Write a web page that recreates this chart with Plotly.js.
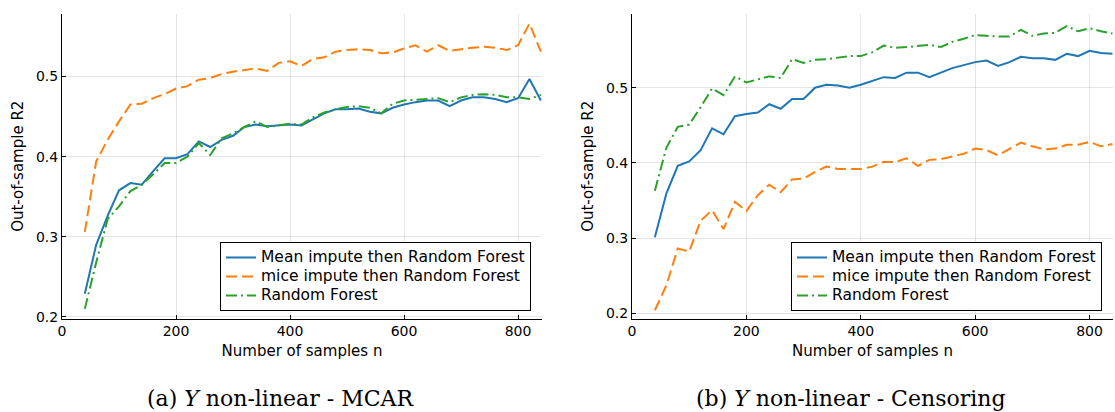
<!DOCTYPE html>
<html>
<head>
<meta charset="utf-8">
<script src="https://cdn.plot.ly/plotly-3.0.1.min.js"></script>
<style>html,body{margin:0;padding:0;background:#fff;}#chart{width:1115px;height:412px;}</style>
</head>
<body>
<div id="chart"></div>
<script>
const nSamples = [40,60,80,100,120,140,160,180,200,220,240,260,280,300,320,340,360,380,400,420,440,460,480,500,520,540,560,580,600,620,640,660,680,700,720,740,760,780,800,820,840];

const seriesNames = ["Mean impute then Random Forest", "mice impute then Random Forest", "Random Forest"];

// (a) Y non-linear - MCAR
const mcarMean = [0.229,0.290,0.326,0.358,0.367,0.365,0.382,0.398,0.398,0.403,0.419,0.412,0.421,0.426,0.437,0.440,0.438,0.439,0.440,0.439,0.447,0.454,0.459,0.459,0.460,0.456,0.454,0.461,0.465,0.468,0.470,0.470,0.463,0.470,0.474,0.474,0.472,0.468,0.473,0.497,0.470];
const mcarMice = [0.306,0.394,0.421,0.444,0.465,0.466,0.473,0.478,0.485,0.488,0.496,0.498,0.503,0.506,0.508,0.510,0.507,0.517,0.519,0.513,0.522,0.524,0.531,0.533,0.534,0.533,0.529,0.530,0.535,0.539,0.531,0.539,0.532,0.534,0.536,0.537,0.536,0.533,0.539,0.566,0.531];
const mcarRF = [0.210,0.268,0.322,0.338,0.357,0.365,0.378,0.392,0.392,0.400,0.417,0.402,0.423,0.429,0.437,0.444,0.437,0.439,0.441,0.440,0.449,0.455,0.459,0.462,0.463,0.461,0.454,0.466,0.470,0.471,0.472,0.473,0.468,0.474,0.477,0.478,0.477,0.474,0.474,0.472,0.477];

// (b) Y non-linear - Censoring
const censMean = [0.301,0.359,0.396,0.402,0.417,0.446,0.438,0.462,0.465,0.467,0.478,0.472,0.485,0.485,0.500,0.504,0.503,0.500,0.504,0.509,0.514,0.513,0.520,0.520,0.514,0.520,0.526,0.530,0.534,0.536,0.529,0.534,0.541,0.539,0.539,0.537,0.545,0.542,0.549,0.546,0.545];
const censMice = [0.204,0.237,0.286,0.282,0.323,0.337,0.312,0.348,0.336,0.357,0.371,0.361,0.378,0.379,0.388,0.395,0.392,0.392,0.392,0.395,0.401,0.401,0.406,0.396,0.404,0.405,0.408,0.412,0.419,0.417,0.410,0.419,0.427,0.422,0.418,0.419,0.424,0.424,0.428,0.422,0.425];
const censRF = [0.363,0.420,0.448,0.451,0.474,0.499,0.490,0.515,0.507,0.511,0.515,0.513,0.538,0.533,0.537,0.538,0.540,0.542,0.542,0.547,0.556,0.553,0.554,0.556,0.557,0.554,0.561,0.565,0.570,0.569,0.568,0.568,0.577,0.569,0.572,0.573,0.582,0.575,0.579,0.575,0.572];

const xTicks = [0,200,400,600,800];
const yTicks = [0.2,0.3,0.4,0.5];
const captions = ["(a) <i>Y</i> non-linear - MCAR", "(b) <i>Y</i> non-linear - Censoring"];

const colors = ["#1f77b4", "#ff7f0e", "#2ca02c"];
const dashes = ["solid", "11px,5px", "11px,4px,2px,4px"];

const panels = [
  {ys: [mcarMean, mcarMice, mcarRF], xa: "x", ya: "y", lg: "legend"},
  {ys: [censMean, censMice, censRF], xa: "x2", ya: "y2", lg: "legend2"}
];

const traces = [];
panels.forEach(p => {
  p.ys.forEach((vals, i) => {
    traces.push({
      x: nSamples, y: vals, type: "scatter", mode: "lines",
      name: '<span style="font-size:15.5px">' + seriesNames[i] + '</span>',
      xaxis: p.xa, yaxis: p.ya, legend: p.lg,
      line: {color: colors[i], width: 2, dash: dashes[i]}
    });
  });
});

const W = 1115, H = 412;
const font = {family: "DejaVu Sans", size: 14, color: "#000"};
function xax(domain, range) {
  return {
    domain: domain, range: range, tickvals: xTicks, ticktext: xTicks.map(String),
    showgrid: true, gridcolor: "rgba(0,0,0,0.1)", gridwidth: 1, zeroline: false,
    showline: true, linecolor: "#000", linewidth: 1, mirror: false,
    ticks: "inside", ticklen: 4, tickcolor: "#000", tickfont: {family: "DejaVu Sans", size: 14, color: "#000"},
    title: {text: "Number of samples n", font: {family: "DejaVu Sans", size: 15, color: "#000"}, standoff: 7},
    fixedrange: true
  };
}
function yax(domain, range, anchor) {
  return {
    domain: domain, range: range, tickvals: yTicks, ticktext: yTicks.map(v => v.toFixed(1)),
    showgrid: true, gridcolor: "rgba(0,0,0,0.1)", gridwidth: 1, zeroline: false,
    showline: true, linecolor: "#000", linewidth: 1, anchor: anchor,
    ticks: "inside", ticklen: 4, tickcolor: "#000", tickfont: {family: "DejaVu Sans", size: 14, color: "#000"},
    title: {text: "Out-of-sample R2", font: {family: "DejaVu Sans", size: 15, color: "#000"}, standoff: 8},
    fixedrange: true
  };
}
const yDom = [1 - 318.5 / H, 1 - 14 / H];
const legendStyle = (x) => ({
  x: x, y: 1 - 242 / H, xanchor: "left", yanchor: "top", xref: "paper", yref: "paper",
  bgcolor: "#fff", bordercolor: "#000", borderwidth: 1,
  font: {family: "DejaVu Sans", size: 11.5, color: "#000"}, tracegroupgap: 0
});

const layout = {
  width: W, height: H, margin: {l: 0, r: 0, t: 0, b: 0},
  paper_bgcolor: "#fff", plot_bgcolor: "#fff", font: font, showlegend: true,
  xaxis: Object.assign(xax([62 / W, 542 / W], [0, 842]), {anchor: "y"}),
  yaxis: yax(yDom, [0.198, 0.578], "x"),
  xaxis2: Object.assign(xax([632 / W, 1113 / W], [0, 841]), {anchor: "y2"}),
  yaxis2: yax(yDom, [0.193, 0.598], "x2"),
  legend: legendStyle(220 / W),
  legend2: legendStyle(791 / W),
  annotations: [
    {text: captions[0], x: 280 / W, y: 1 - 398 / H, xref: "paper", yref: "paper", showarrow: false,
     xanchor: "center", yanchor: "middle", font: {family: "DejaVu Serif", size: 22, color: "#000"}},
    {text: captions[1], x: 850 / W, y: 1 - 398 / H, xref: "paper", yref: "paper", showarrow: false,
     xanchor: "center", yanchor: "middle", font: {family: "DejaVu Serif", size: 22, color: "#000"}}
  ]
};

Plotly.newPlot("chart", traces, layout, {displayModeBar: false, staticPlot: true});
</script>
</body>
</html>
